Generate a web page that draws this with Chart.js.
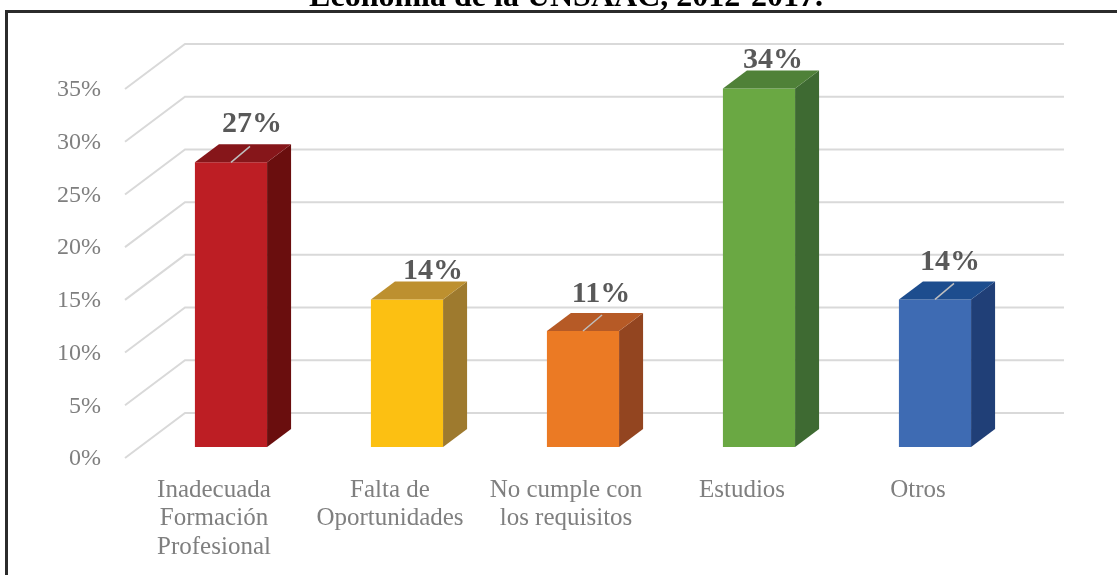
<!DOCTYPE html>
<html>
<head>
<meta charset="utf-8">
<script src="https://cdn.jsdelivr.net/npm/chart.js@4"></script>
<style>
  html, body { margin: 0; padding: 0; background: #fff; overflow: hidden; }
  #wrap { position: relative; width: 1117px; height: 575px; }
  #frame {
    position: absolute; left: 5px; top: 10px; width: 1200px; height: 700px;
    border-top: 3px solid #2b2b2b; border-left: 3px solid #2b2b2b;
    pointer-events: none;
  }
</style>
</head>
<body>
<div id="wrap">
  <canvas id="motivos" width="1117" height="575"></canvas>
  <div id="frame"></div>
</div>
<script>
const titulo = "Economía de la UNSAAC, 2012-2017.";
const categorias = [
  ["Inadecuada", "Formación", "Profesional"],
  ["Falta de", "Oportunidades"],
  ["No cumple con", "los requisitos"],
  "Estudios",
  "Otros",
];
const porcentajes = [27, 14, 11, 34, 14];
const ejeMax = 35;
const ejePaso = 5;

// frente / lado / tapa de cada barra
const colores = [
  { frente: "#bd1e24", lado: "#6a0e0e", tapa: "#86161a" },
  { frente: "#fcc012", lado: "#9e7a2e", tapa: "#bd902f" },
  { frente: "#eb7a24", lado: "#934520", tapa: "#b65a26" },
  { frente: "#6aa843", lado: "#3e6a32", tapa: "#4f8138" },
  { frente: "#3e6bb3", lado: "#203f77", tapa: "#1d4d8e" },
];

const serif = "'Liberation Serif', 'Times New Roman', serif";

// paredes, caras laterales, etiquetas y titulo
const barras3d = {
  id: "barras3d",
  beforeDatasetsDraw(chart, args, opts) {
    const { ctx, chartArea, scales } = chart;
    ctx.save();
    ctx.strokeStyle = "#d9d9d9";
    ctx.lineWidth = 2;
    scales.y.ticks.forEach((t) => {
      const fy = scales.y.getPixelForValue(t.value) + opts.frenteY;
      const fx = chartArea.left + opts.frenteX;
      ctx.beginPath();
      ctx.moveTo(fx, fy);
      ctx.lineTo(fx + opts.paredDX, fy - opts.paredDY);
      ctx.lineTo(opts.paredDerecha, fy - opts.paredDY);
      ctx.stroke();
    });
    ctx.restore();
  },
  afterDatasetsDraw(chart, args, opts) {
    const { ctx } = chart;
    const meta = chart.getDatasetMeta(0);
    const dx = opts.fondoDX, dy = opts.fondoDY;
    ctx.save();
    meta.data.forEach((bar, i) => {
      const { x, y, base, width } = bar.getProps(["x", "y", "base", "width"], true);
      const l = x - width / 2, r = x + width / 2;
      const c = colores[i];

      ctx.fillStyle = c.lado;
      ctx.beginPath();
      ctx.moveTo(r, y);
      ctx.lineTo(r + dx, y - dy);
      ctx.lineTo(r + dx, base - dy);
      ctx.lineTo(r, base);
      ctx.closePath();
      ctx.fill();

      ctx.fillStyle = c.tapa;
      ctx.beginPath();
      ctx.moveTo(l, y);
      ctx.lineTo(l + dx, y - dy);
      ctx.lineTo(r + dx, y - dy);
      ctx.lineTo(r, y);
      ctx.closePath();
      ctx.fill();

      if (opts.guias[i]) {
        ctx.strokeStyle = "#bfbfbf";
        ctx.lineWidth = 1.5;
        ctx.beginPath();
        ctx.moveTo(x, y);
        ctx.lineTo(x + 19, y - 16);
        ctx.stroke();
      }

      const [ox, oy] = opts.etiquetas[i];
      ctx.fillStyle = "#595959";
      ctx.font = "bold 30px " + serif;
      ctx.textAlign = "center";
      ctx.textBaseline = "middle";
      ctx.fillText(porcentajes[i] + "%", x + ox, y + oy);
    });

    ctx.fillStyle = "#000";
    ctx.font = "bold 32px " + serif;
    ctx.textAlign = "center";
    ctx.textBaseline = "alphabetic";
    ctx.fillText(titulo, 566, 6);
    ctx.restore();
  },
};

new Chart(document.getElementById("motivos"), {
  type: "bar",
  data: {
    labels: categorias,
    datasets: [
      {
        data: porcentajes,
        backgroundColor: colores.map((c) => c.frente),
        borderWidth: 0,
        categoryPercentage: 1,
        barPercentage: 0.41,
        clip: false,
      },
    ],
  },
  options: {
    responsive: false,
    animation: false,
    events: [],
    layout: { padding: { left: 0, right: 94, top: 78, bottom: 0 } },
    plugins: {
      legend: { display: false },
      tooltip: { enabled: false },
      title: { display: false },
      barras3d: {
        frenteX: -18,
        frenteY: 11,
        paredDX: 60,
        paredDY: 45,
        paredDerecha: 1064,
        fondoDX: 24,
        fondoDY: 18,
        etiquetas: [[21, -38], [26, -28], [18, -37], [14, -28], [15, -37]],
        guias: [true, false, true, false, true],
      },
    },
    scales: {
      x: {
        grid: { display: false, drawTicks: false },
        border: { display: false },
        ticks: {
          color: "#7f7f7f",
          font: { family: serif, size: 25, lineHeight: 1.14 },
          padding: 29,
          labelOffset: -17,
          maxRotation: 0,
          autoSkip: false,
        },
        afterFit: (s) => { s.height = 128; },
      },
      y: {
        min: 0,
        max: ejeMax,
        grid: { display: false, drawTicks: false },
        border: { display: false },
        ticks: {
          stepSize: ejePaso,
          color: "#7f7f7f",
          font: { family: serif, size: 24 },
          padding: 42,
          labelOffset: 12,
          callback: (v) => v + "%",
        },
        afterFit: (s) => { s.width = 143; },
      },
    },
  },
  plugins: [barras3d],
});
</script>
</body>
</html>
